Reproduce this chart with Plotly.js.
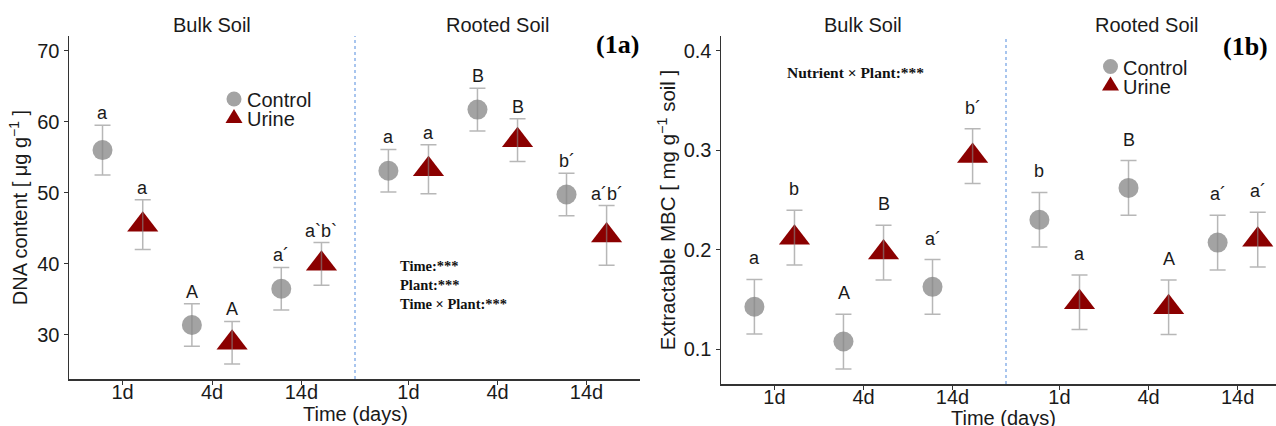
<!DOCTYPE html>
<html>
<head>
<meta charset="utf-8">
<script src="https://cdn.plot.ly/plotly-3.0.1.min.js"></script>
<style>
  html, body { margin: 0; padding: 0; background: #ffffff; }
  #chart { width: 1276px; height: 426px; }
</style>
</head>
<body>
<div id="chart"></div>
<script>
// ---------- DATA ----------
const times = ['1d', '4d', '14d'];
const treatments = ['Control', 'Urine'];

// Panel (1a): DNA content [ug g-1]
const dnaBulkControl    = [56.0, 31.4, 36.5];
const dnaBulkControlSE  = [3.5, 3.0, 3.0];
const dnaBulkUrine      = [45.5, 28.9, 40.0];
const dnaBulkUrineSE    = [3.5, 3.0, 3.0];
const dnaRootControl    = [53.1, 61.7, 49.75];
const dnaRootControlSE  = [3.0, 3.0, 3.0];
const dnaRootUrine      = [53.3, 57.4, 44.0];
const dnaRootUrineSE    = [3.45, 3.0, 4.2];

const dnaBulkControlLbl = ['a', 'A', 'a´'];
const dnaBulkUrineLbl   = ['a', 'A', 'a`b`'];
const dnaRootControlLbl = ['a', 'B', 'b´'];
const dnaRootUrineLbl   = ['a', 'B', 'a´b´'];

// Panel (1b): Extractable MBC [mg g-1 soil]
const mbcBulkControl    = [0.1425, 0.1075, 0.1625];
const mbcBulkControlSE  = [0.0275, 0.0275, 0.0275];
const mbcBulkUrine      = [0.212, 0.197, 0.294];
const mbcBulkUrineSE    = [0.0275, 0.0275, 0.0275];
const mbcRootControl    = [0.230, 0.262, 0.207];
const mbcRootControlSE  = [0.0275, 0.0275, 0.0275];
const mbcRootUrine      = [0.147, 0.142, 0.210];
const mbcRootUrineSE    = [0.0275, 0.0275, 0.0275];

const mbcBulkControlLbl = ['a', 'A', 'a´'];
const mbcBulkUrineLbl   = ['b', 'B', 'b´'];
const mbcRootControlLbl = ['b', 'B', 'a´'];
const mbcRootUrineLbl   = ['a', 'A', 'a´'];

const dnaTicks = [30, 40, 50, 60, 70];
const mbcTicks = [0.1, 0.2, 0.3, 0.4];

// ---------- STYLE ----------
const W = 1276, H = 426;
const px = v => v / W;
const py = v => 1 - v / H;
const GRAY = '#a3a3a3';
const RED = '#8b0000';
const ERR = 'rgba(135,135,135,0.6)';
const SANS = 'Liberation Sans, Arial, sans-serif';
const SERIF = 'Liberation Serif, Times New Roman, serif';
const TXT = '#1a1a1a';

const traces = [];
const annotations = [];
const shapes = [];

function addSeries(xa, ya, vals, se, lbls, treat, labelShift) {
  const isC = treat === 'Control';
  const group = isC ? 'c' : 'u';
  traces.push({
    type: 'scatter', mode: 'markers', x: times, y: vals,
    xaxis: xa, yaxis: ya, offsetgroup: group,
    name: treat, showlegend: false,
    marker: { symbol: isC ? 'circle' : 'triangle-up', size: isC ? 20 : 27,
              color: isC ? GRAY : RED, line: { width: 0 } },
    hoverinfo: 'x+y+name'
  });
  // error bars drawn on top of markers
  traces.push({
    type: 'scatter', mode: 'markers', x: times, y: vals,
    xaxis: xa, yaxis: ya, offsetgroup: group, showlegend: false,
    marker: { size: 1, opacity: 0 },
    error_y: { type: 'data', array: se, visible: true, color: ERR, thickness: 1.5, width: 8 },
    hoverinfo: 'skip'
  });
  const xs = isC ? -20 : 20;
  for (let i = 0; i < times.length; i++) {
    annotations.push({
      xref: xa, yref: ya, x: times[i], y: vals[i] + se[i],
      xanchor: 'center', yanchor: 'bottom', xshift: xs, yshift: labelShift,
      text: lbls[i], showarrow: false,
      font: { family: SANS, size: 18, color: TXT }
    });
  }
}

addSeries('x',  'y',  dnaBulkControl, dnaBulkControlSE, dnaBulkControlLbl, 'Control', 0);
addSeries('x',  'y',  dnaBulkUrine,   dnaBulkUrineSE,   dnaBulkUrineLbl,   'Urine',   0);
addSeries('x2', 'y',  dnaRootControl, dnaRootControlSE, dnaRootControlLbl, 'Control', 0);
addSeries('x2', 'y',  dnaRootUrine,   dnaRootUrineSE,   dnaRootUrineLbl,   'Urine',   0);
addSeries('x3', 'y2', mbcBulkControl, mbcBulkControlSE, mbcBulkControlLbl, 'Control', 9);
addSeries('x3', 'y2', mbcBulkUrine,   mbcBulkUrineSE,   mbcBulkUrineLbl,   'Urine',   9);
addSeries('x4', 'y2', mbcRootControl, mbcRootControlSE, mbcRootControlLbl, 'Control', 9);
addSeries('x4', 'y2', mbcRootUrine,   mbcRootUrineSE,   mbcRootUrineLbl,   'Urine',   9);

function xAx(domain, anchor, range) {
  return {
    domain: domain, anchor: anchor, type: 'category', categoryorder: 'array', categoryarray: times,
    range: range, showline: true, linecolor: '#333', linewidth: 1.5, mirror: false,
    ticks: 'outside', ticklen: 4, tickwidth: 1, tickcolor: '#333', showgrid: false, zeroline: false,
    ticklabelstandoff: -10,
    tickfont: { family: SANS, size: 20, color: TXT }, fixedrange: true
  };
}
function yAx(domain, anchor, range, ticks) {
  return {
    domain: domain, anchor: anchor, range: range, tickvals: ticks,
    showline: true, linecolor: '#333', linewidth: 1.5,
    ticks: 'outside', ticklen: 4, tickwidth: 1, tickcolor: '#333', showgrid: false, zeroline: false,
    tickfont: { family: SANS, size: 20, color: TXT }, fixedrange: true
  };
}

const xa1 = xAx([px(69), px(355)], 'y', [-0.6, 2.6]);
const xa2 = xAx([px(355), px(640)], 'y', [-0.6, 2.6]);
const xa3 = xAx([px(721), px(1006)], 'y2', [-0.6, 2.6]);
const xa4 = xAx([px(1006), 1], 'y2', [-0.6, 2.43]);
const ya1 = yAx([py(379), py(36)], 'x', [23.8, 72.05], dnaTicks);
ya1.title = { text: 'DNA content [ μg g<sup>−1</sup> ]', font: { family: SANS, size: 20, color: TXT }, standoff: 4 };
const ya2 = yAx([py(384), py(36)], 'x3', [0.0648, 0.4148], mbcTicks);
ya2.title = { text: 'Extractable MBC [ mg g<sup>−1</sup> soil ]', font: { family: SANS, size: 20.5, color: TXT }, standoff: 2 };

// facet titles, x-axis titles, panel tags, statistics text
const extra = [
  { x: 212,  y: 25,  text: 'Bulk Soil' },
  { x: 497,  y: 25,  text: 'Rooted Soil' },
  { x: 863,  y: 25,  text: 'Bulk Soil' },
  { x: 1146, y: 25,  text: 'Rooted Soil' },
  { x: 355,  y: 414, text: 'Time (days)' },
  { x: 1003, y: 418, text: 'Time (days)' }
];
extra.forEach(e => {
  annotations.push({ xref: 'paper', yref: 'paper', x: px(e.x), y: py(e.y), text: e.text, showarrow: false,
    xanchor: 'center', yanchor: 'middle', font: { family: SANS, size: 20, color: TXT } });
});
annotations.push({ xref: 'paper', yref: 'paper', x: px(641), y: py(44), xanchor: 'right', yanchor: 'middle',
  text: '<b>(1a)</b>', showarrow: false, font: { family: SERIF, size: 26, color: '#000' } });
annotations.push({ xref: 'paper', yref: 'paper', x: px(1270), y: py(46), xanchor: 'right', yanchor: 'middle',
  text: '<b>(1b)</b>', showarrow: false, font: { family: SERIF, size: 26, color: '#000' } });
annotations.push({ xref: 'paper', yref: 'paper', x: px(398), y: py(256), xanchor: 'left', yanchor: 'top', align: 'left',
  text: '<b>Time:***<br>Plant:***<br>Time × Plant:***</b>', showarrow: false,
  font: { family: SERIF, size: 14.5, color: '#111' } });
annotations.push({ xref: 'paper', yref: 'paper', x: px(855), y: py(72), xanchor: 'center', yanchor: 'middle',
  text: '<b>Nutrient × Plant:***</b>', showarrow: false,
  font: { family: SERIF, size: 15.5, color: '#111' } });

// legends (one per panel): symbol + label
function addLegend(cx, cy1, cy2, tx) {
  shapes.push({ type: 'circle', xref: 'paper', yref: 'paper', xsizemode: 'pixel', ysizemode: 'pixel',
    xanchor: px(cx), yanchor: py(cy1), x0: -7.5, x1: 7.5, y0: -7.5, y1: 7.5,
    fillcolor: GRAY, line: { width: 0 } });
  shapes.push({ type: 'path', xref: 'paper', yref: 'paper', xsizemode: 'pixel', ysizemode: 'pixel',
    xanchor: px(cx), yanchor: py(cy2), path: 'M -8.5 -5 L 8.5 -5 L 0 9 Z',
    fillcolor: RED, line: { width: 0 } });
  [[treatments[0], cy1], [treatments[1], cy2]].forEach(([t, cy]) => {
    annotations.push({ xref: 'paper', yref: 'paper', x: px(tx), y: py(cy + 1), xanchor: 'left', yanchor: 'middle',
      text: t, showarrow: false, font: { family: SANS, size: 20, color: TXT } });
  });
}
addLegend(234, 99, 118, 245);
addLegend(1110.5, 66.5, 85.5, 1121);

shapes.push(
  { type: 'line', xref: 'x2 domain', yref: 'y domain', x0: 0, x1: 0, y0: 0, y1: 1,
    line: { color: '#6f9fe3', width: 1.2, dash: 'dot' } },
  { type: 'line', xref: 'x4 domain', yref: 'y2 domain', x0: 0, x1: 0, y0: 0, y1: 1,
    line: { color: '#6f9fe3', width: 1.2, dash: 'dot' } }
);

const layout = {
  width: W, height: H,
  margin: { l: 0, r: 0, t: 0, b: 0 },
  paper_bgcolor: '#ffffff', plot_bgcolor: '#ffffff',
  scattermode: 'group', scattergap: 0.1,
  showlegend: false,
  xaxis: xa1, xaxis2: xa2, xaxis3: xa3, xaxis4: xa4,
  yaxis: ya1, yaxis2: ya2,
  annotations: annotations,
  shapes: shapes
};

Plotly.newPlot('chart', traces, layout, { displayModeBar: false, staticPlot: true });
</script>
</body>
</html>
